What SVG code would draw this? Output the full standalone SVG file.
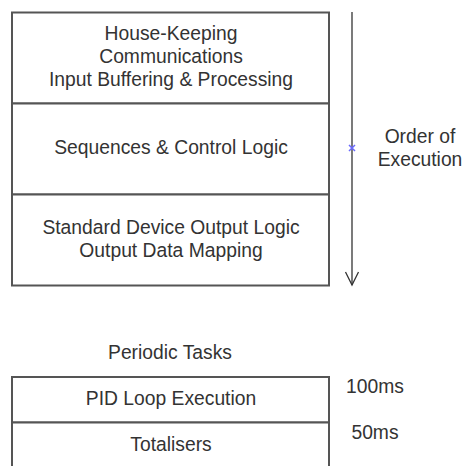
<svg xmlns="http://www.w3.org/2000/svg" width="463" height="466" viewBox="0 0 463 466">
<style>
.box{fill:#fff;stroke:#555;stroke-width:2}
.t{font-family:"Liberation Sans",Arial,sans-serif;font-size:19.3px;fill:#333;text-anchor:middle}
.conn{stroke:#333;stroke-width:1.3;fill:none}
</style>
<rect width="463" height="466" fill="#fff"/>
<g id="housekeeping">
<rect class="box" x="12" y="12.5" width="317" height="91"/>
<text class="t" x="171" y="40">House-Keeping</text>
<text class="t" x="171" y="63">Communications</text>
<text class="t" x="171" y="86">Input Buffering &amp; Processing</text>
</g>
<g id="sequences">
<rect class="box" x="12" y="103.5" width="317" height="91"/>
<text class="t" x="171" y="154">Sequences &amp; Control Logic</text>
</g>
<g id="output">
<rect class="box" x="12" y="194.5" width="317" height="91"/>
<text class="t" x="171" y="234">Standard Device Output Logic</text>
<text class="t" x="171" y="257">Output Data Mapping</text>
</g>
<g id="connectors">
<path class="conn" d="M352 12 V285"/>
<path class="conn" d="M345.5 272 L352 285 L358.5 272"/>
<path d="M349 145 L355 151 M355 145 L349 151" stroke="#6a6aff" stroke-width="1.5"/>
</g>
<g id="order-label">
<text class="t" x="420" y="143">Order of</text>
<text class="t" x="420" y="166">Execution</text>
</g>
<g id="periodic-title">
<text class="t" x="170" y="359">Periodic Tasks</text>
</g>
<g id="pid">
<rect class="box" x="12" y="377" width="317" height="45.5"/>
<text class="t" x="171" y="405">PID Loop Execution</text>
<text class="t" x="375" y="393">100ms</text>
</g>
<g id="totalisers">
<rect class="box" x="12" y="422.5" width="317" height="60"/>
<text class="t" x="171" y="451">Totalisers</text>
<text class="t" x="375" y="439">50ms</text>
</g>
</svg>
